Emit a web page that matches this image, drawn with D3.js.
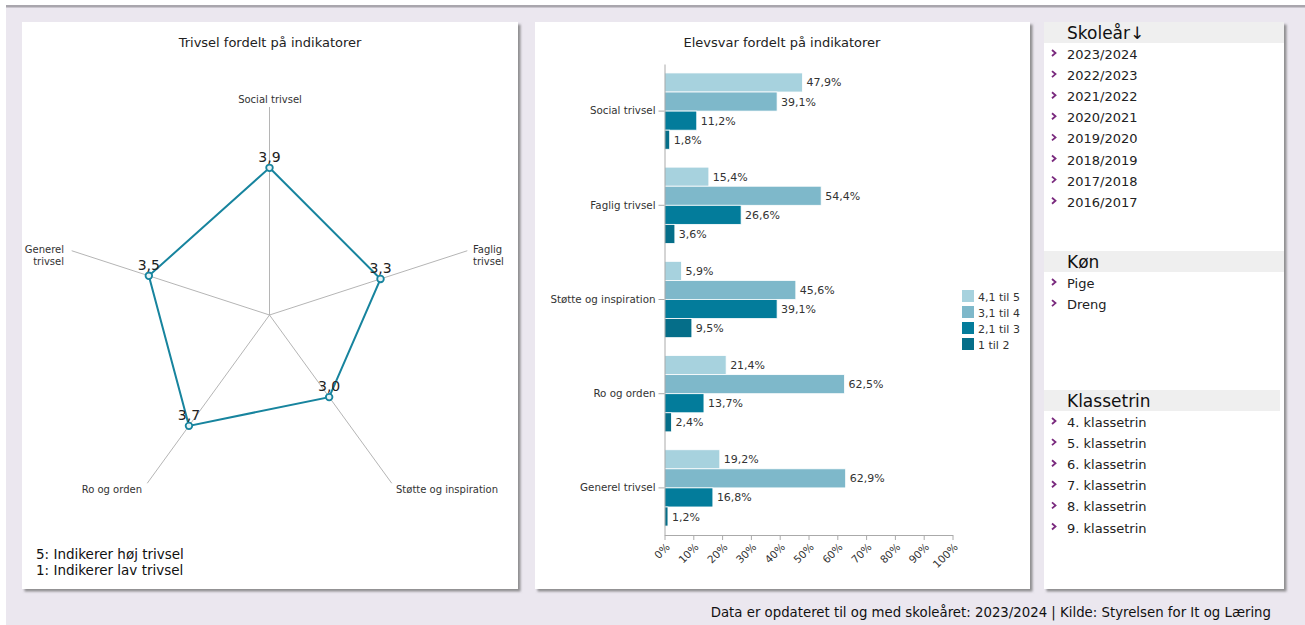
<!DOCTYPE html>
<html><head><meta charset="utf-8">
<script src="https://cdn.jsdelivr.net/npm/d3@7"></script>
<style>
html,body{margin:0;padding:0;background:#fff;overflow:hidden}
svg{display:block;font-family:"DejaVu Sans",Verdana,sans-serif}
</style></head><body>
<svg id="c" width="1305" height="625"></svg>
<script>
// ---- data ----
const indicators = ["Social trivsel","Faglig trivsel","Støtte og inspiration","Ro og orden","Generel trivsel"];
const radarLabels = [["Social trivsel"],["Faglig","trivsel"],["Støtte og inspiration"],["Ro og orden"],["Generel","trivsel"]];
const radarValues = [3.9, 3.3, 3.0, 3.7, 3.5];
const seriesNames = ["4,1 til 5","3,1 til 4","2,1 til 3","1 til 2"];
const s41til5 = [47.9, 15.4, 5.9, 21.4, 19.2];
const s31til4 = [39.1, 54.4, 45.6, 62.5, 62.9];
const s21til3 = [11.2, 26.6, 39.1, 13.7, 16.8];
const s1til2  = [1.8, 3.6, 9.5, 2.4, 1.2];
const xTicks = [0,10,20,30,40,50,60,70,80,90,100];
const skoleaar = ["2023/2024","2022/2023","2021/2022","2020/2021","2019/2020","2018/2019","2017/2018","2016/2017"];
const koen = ["Pige","Dreng"];
const klassetrin = ["4. klassetrin","5. klassetrin","6. klassetrin","7. klassetrin","8. klassetrin","9. klassetrin"];
const colors = ["#a7d2de","#7eb8ca","#037c9b","#056e89"];
const fmt = v => d3.format(".1f")(v).replace(".", ",");

const svg = d3.select("#c");
const defs = svg.append("defs");
const f = defs.append("filter").attr("id","sh").attr("x","-5%").attr("y","-5%").attr("width","110%").attr("height","110%");
f.append("feDropShadow").attr("dx",2.5).attr("dy",2.5).attr("stdDeviation",1.2).attr("flood-color","#777").attr("flood-opacity",0.8);

// page background
svg.append("rect").attr("x",6).attr("y",6).attr("width",1299).attr("height",619).attr("fill","#ebe7ef");
svg.append("rect").attr("x",6).attr("y",5).attr("width",1299).attr("height",2.5).attr("fill","#a9a6ad");

// panels
const panels = [[22,22,496,567],[535,22,495,567],[1044,22,240,567]];
panels.forEach(p => svg.append("rect").attr("x",p[0]).attr("y",p[1]).attr("width",p[2]).attr("height",p[3]).attr("fill","#fff").attr("filter","url(#sh)"));

// ---- radar ----
const cx = 269.5, cy = 315;
const r = d3.scaleLinear().domain([1,5]).range([0,203]);
const axisLen = 208;
const ang = d3.scaleLinear().domain([0,indicators.length]).range([0,2*Math.PI]);
const pt = (i, rad) => [cx + rad*Math.sin(ang(i)), cy - rad*Math.cos(ang(i))];
const rg = svg.append("g");
rg.append("text").attr("x",270).attr("y",47).attr("text-anchor","middle").attr("font-size",13).attr("fill","#222").text("Trivsel fordelt på indikatorer");
indicators.forEach((d,i) => {
  const e = pt(i, axisLen);
  rg.append("line").attr("x1",cx).attr("y1",cy).attr("x2",e[0]).attr("y2",e[1]).attr("stroke","#b5b5b5").attr("stroke-width",1);
});
const lab = [
  {x:270,y:103,a:"middle"},
  {x:473,y:253,a:"start"},
  {x:396,y:493,a:"start"},
  {x:142,y:493,a:"end"},
  {x:64,y:253,a:"end"}
];
radarLabels.forEach((lines,i) => {
  const t = rg.append("text").attr("x",lab[i].x).attr("y",lab[i].y).attr("text-anchor",lab[i].a).attr("font-size",10).attr("fill","#333");
  lines.forEach((l,j)=> t.append("tspan").attr("x",lab[i].x).attr("dy", j?12:0).text(l));
});
const line = d3.line().curve(d3.curveLinearClosed);
const pts = radarValues.map((v,i) => pt(i, r(v)));
rg.append("path").attr("d", line(pts)).attr("fill","none").attr("stroke","#17849e").attr("stroke-width",2);
rg.selectAll("circle.p").data(pts).join("circle").attr("cx",d=>d[0]).attr("cy",d=>d[1]).attr("r",3.3).attr("fill","#e8f3f6").attr("stroke","#17849e").attr("stroke-width",1.8);
rg.selectAll("text.v").data(radarValues).join("text").attr("x",(d,i)=>pts[i][0]).attr("y",(d,i)=>pts[i][1]-6).attr("text-anchor","middle").attr("font-size",14).attr("fill","#222").text(d=>fmt(d));
rg.append("text").attr("x",36).attr("y",559).attr("font-size",13.5).attr("fill","#111").text("5: Indikerer høj trivsel");
rg.append("text").attr("x",36).attr("y",575).attr("font-size",13.5).attr("fill","#111").text("1: Indikerer lav trivsel");

// ---- bar chart ----
const bg = svg.append("g");
bg.append("text").attr("x",782).attr("y",47).attr("text-anchor","middle").attr("font-size",13).attr("fill","#222").text("Elevsvar fordelt på indikatorer");
const x = d3.scaleLinear().domain([0,100]).range([664.5,952.5]);
const y = d3.scaleBand().domain(indicators).range([64,535]).paddingInner(0.19).paddingOuter(0.095);
const y1 = d3.scaleBand().domain(seriesNames).range([0,y.bandwidth()]);
const seriesData = [s41til5,s31til4,s21til3,s1til2];
seriesNames.forEach((s,k) => {
  const g = bg.append("g");
  g.selectAll("rect").data(seriesData[k]).join("rect")
    .attr("x", x(0)).attr("y",(d,i)=>y(indicators[i])+y1(s))
    .attr("width", d=>x(d)-x(0)).attr("height", y1.bandwidth())
    .attr("fill", colors[k]).attr("stroke","#fff").attr("stroke-width",0.8);
  g.selectAll("text").data(seriesData[k]).join("text")
    .attr("x", d=>x(d)+4).attr("y",(d,i)=>y(indicators[i])+y1(s)+y1.bandwidth()/2+4)
    .attr("font-size",11).attr("fill","#333").text(d=>fmt(d)+"%");
});
const xa = bg.append("g").attr("transform","translate(0,535)").call(d3.axisBottom(x).tickValues(xTicks).tickSize(5).tickSizeOuter(0).tickFormat(d=>d+"%"));
xa.select(".domain").attr("stroke","#aaa");
xa.selectAll(".tick line").attr("stroke","#aaa");
xa.selectAll(".tick text").attr("font-size",10.5).attr("fill","#333").attr("font-family","DejaVu Sans,Verdana,sans-serif")
  .attr("text-anchor","end").attr("x",0).attr("y",0).attr("dy","0.35em").attr("dx",0)
  .attr("transform","translate(3,10) rotate(-45)");
const ya = bg.append("g").attr("transform","translate(664.5,0)").call(d3.axisLeft(y).tickSize(6).tickSizeOuter(0).tickPadding(3));
ya.select(".domain").attr("stroke","#aaa");
ya.selectAll(".tick line").attr("stroke","#aaa");
ya.selectAll(".tick text").attr("font-size",10.3).attr("fill","#333").attr("font-family","DejaVu Sans,Verdana,sans-serif");
const lg = bg.append("g").attr("transform","translate(962,290)");
seriesNames.forEach((s,k)=>{
  lg.append("rect").attr("x",0).attr("y",k*16).attr("width",12).attr("height",12).attr("fill",colors[k]);
  lg.append("text").attr("x",16).attr("y",k*16+10.5).attr("font-size",11).attr("fill","#333").text(s);
});

// ---- filter panel ----
const fp = svg.append("g");
function section(title, items, top, w){
  fp.append("rect").attr("x",1044).attr("y",top).attr("width",w).attr("height",21).attr("fill","#efefef");
  fp.append("text").attr("x",1067).attr("y",top+17).attr("font-size",17).attr("fill","#111").text(title);
  items.forEach((it,i)=>{
    const yy = top + 36 + i*21.1;
    fp.append("path").attr("d",`M${1052},${yy-8} l3.5,3 l-3.5,3`).attr("fill","none").attr("stroke","#7a2a7e").attr("stroke-width",1.8);
    fp.append("text").attr("x",1067).attr("y",yy+1).attr("font-size",13).attr("fill","#222").text(it);
  });
}
section("Skoleår↓", skoleaar, 22, 240);
section("Køn", koen, 251, 240);
section("Klassetrin", klassetrin, 390, 236);

svg.append("text").attr("x",1271).attr("y",617).attr("text-anchor","end").attr("font-size",13.3).attr("fill","#111").text("Data er opdateret til og med skoleåret: 2023/2024 | Kilde: Styrelsen for It og Læring");
</script></body></html>
